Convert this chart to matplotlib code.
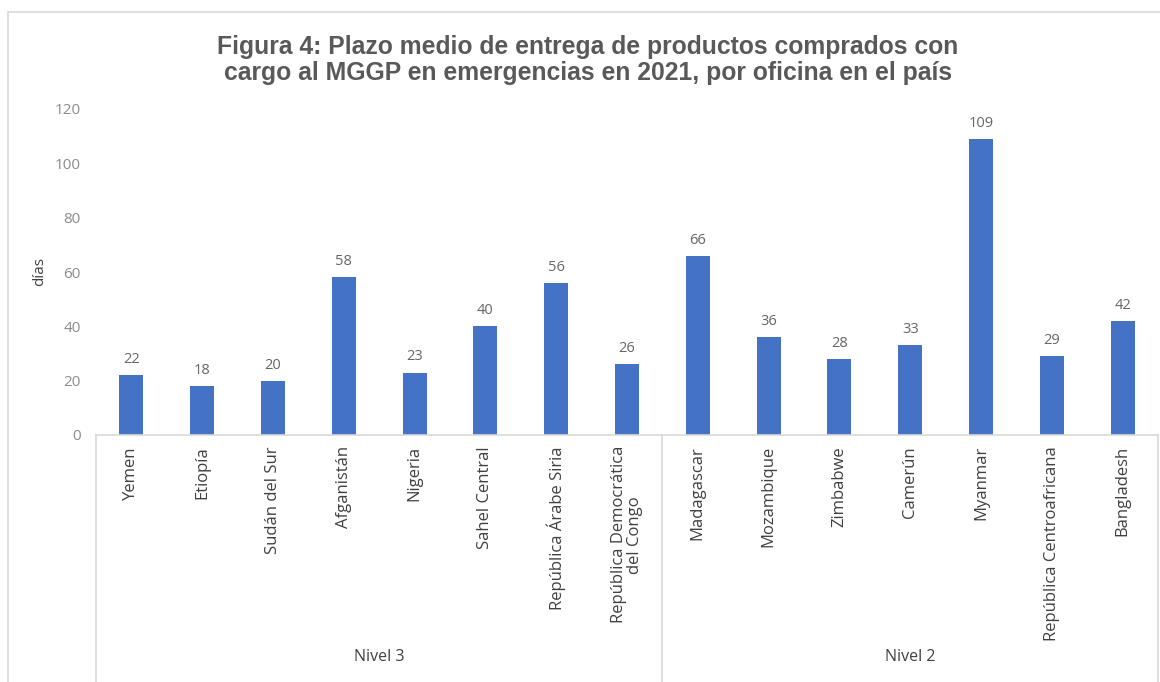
import matplotlib.pyplot as plt
import matplotlib.transforms as mtransforms
from matplotlib.patches import Rectangle

categories = ["Yemen", "Etiopía", "Sudán del Sur", "Afganistán", "Nigeria",
              "Sahel Central", "República Árabe Siria",
              "República Democrática\ndel Congo",
              "Madagascar", "Mozambique", "Zimbabwe", "Camerún", "Myanmar",
              "República Centroafricana", "Bangladesh"]
days = [22, 18, 20, 58, 23, 40, 56, 26, 66, 36, 28, 33, 109, 29, 42]
groups = ["Nivel 3", "Nivel 2"]
group_sizes = [8, 7]
yticks = [0, 20, 40, 60, 80, 100, 120]

title = ("Figura 4: Plazo medio de entrega de productos comprados con\n"
         "cargo al MGGP en emergencias en 2021, por oficina en el país")

plt.rcParams['font.family'] = ['Open Sans', 'DejaVu Sans']

fig = plt.figure(figsize=(11.6, 6.82), dpi=100)
ax = fig.add_axes([96 / 1160, 1 - 435 / 682, 1062 / 1160, 326 / 682])

# chart frame
fig.add_artist(Rectangle((8 / 1160, -0.01), 1.0, 1 - 12 / 682 + 0.01,
                         transform=fig.transFigure, fill=False,
                         edgecolor="#d9d9d9", linewidth=1.2))

x = list(range(len(categories)))
bars = ax.bar(x, days, width=0.34, color="#4472C4")
for xi, v in zip(x, days):
    ax.text(xi, v + 3, str(v), ha="center", va="bottom",
            fontsize=10.5, color="#666666")

ax.set_xlim(-0.5, len(categories) - 0.5)
ax.set_ylim(0, 120)
ax.set_yticks(yticks)
ax.tick_params(axis="y", length=0, labelsize=11, labelcolor="#8c8c8c", pad=11)
ax.set_xticks([])
for s in ["top", "right", "left"]:
    ax.spines[s].set_visible(False)
ax.spines["bottom"].set_color("#d9d9d9")
ax.spines["bottom"].set_linewidth(1.2)

ax.set_ylabel("días", fontsize=11, color="#404040")
ax.yaxis.set_label_coords(-0.046, 0.5)

# category labels
trans = mtransforms.blended_transform_factory(ax.transData, fig.transFigure)
for xi, c in zip(x, categories):
    ax.text(xi, 1 - 446 / 682, c, transform=trans, rotation=90,
            ha="center", va="top", fontsize=12, color="#404040",
            multialignment="center", linespacing=1.0)

# group separators and labels
start = -0.5
bounds = [start]
for n in group_sizes:
    bounds.append(bounds[-1] + n)
for b in bounds:
    ax.plot([b, b], [1 - 435 / 682, 0], transform=trans, clip_on=False,
            color="#d9d9d9", linewidth=1.2)
for g, a, b in zip(groups, bounds[:-1], bounds[1:]):
    ax.text((a + b) / 2, 1 - 657 / 682, g, transform=trans, ha="center",
            va="center", fontsize=11.5, color="#404040")

fig.text(0.507, 1 - 60 / 682, title, ha="center", va="center",
         fontsize=17.8, fontweight="bold", color="#595959",
         family=["Liberation Sans", "DejaVu Sans"], linespacing=1.1)

fig.savefig("out.png", dpi=100)
